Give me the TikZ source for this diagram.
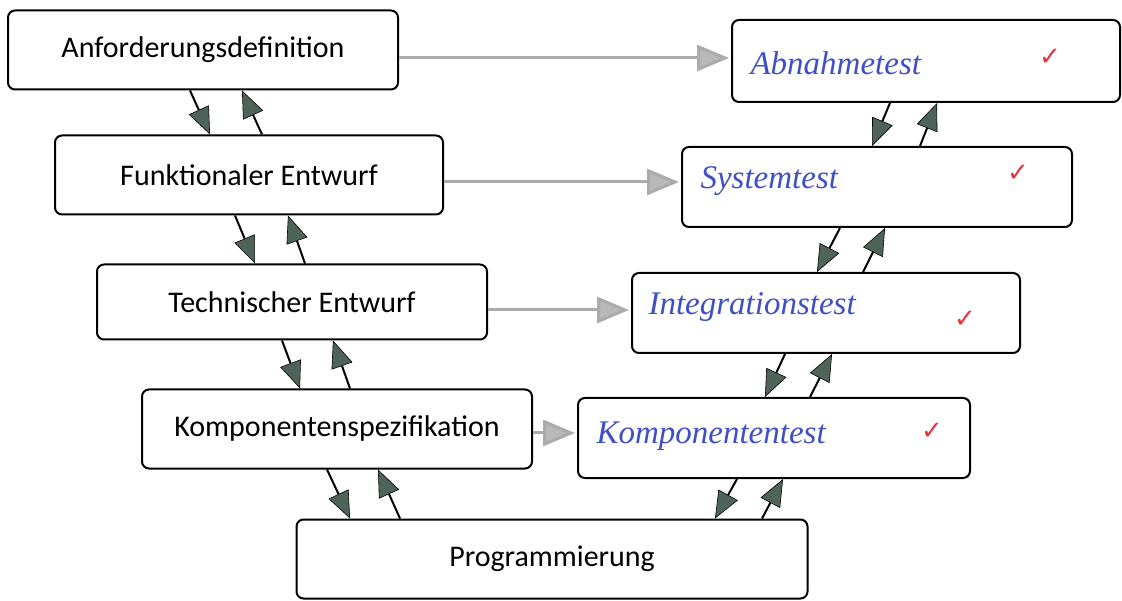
\documentclass[tikz,border=0pt]{standalone}
\usepackage{fontspec}
\setmainfont{Carlito}
\newfontfamily\handfont{Liberation Serif}
\newfontfamily\symfont{DejaVu Sans}
\usetikzlibrary{arrows.meta}

\definecolor{headfill}{HTML}{4E6459}
\definecolor{flowgray}{HTML}{ABABAB}
\definecolor{inkblue}{HTML}{3F4FC4}
\definecolor{markred}{HTML}{E8323C}

\tikzset{
  phase/.style={draw=black, line width=2pt, rounded corners=7pt, fill=white,
    minimum height=79pt, inner sep=0pt, font=\fontsize{30}{35}\selectfont},
  testbox/.style={phase},
  hand/.style={font=\handfont\itshape\fontsize{33}{37}\selectfont, text=inkblue, anchor=west},
  tick/.style={font=\symfont\fontsize{26}{28}\selectfont, text=markred},
  flow/.style={line width=3pt, draw=flowgray,
    -{Triangle[length=32pt, width=26pt, fill=flowgray!85]}, shorten >=2pt},
  dep/.style={line width=2pt, draw=black,
    -{Triangle[length=27pt, width=22pt, fill=headfill, line width=0.6pt]}}
}

\begin{document}
\begin{tikzpicture}[x=1pt, y=-1pt]
\useasboundingbox (0,0) rectangle (1122,601);

% left branch of the V
\node[phase, minimum width=390pt] (anf)  at (203,50)  {Anforderungsdefinition};
\node[phase, minimum width=388pt] (funk) at (249,175) {Funktionaler Entwurf};
\node[phase, minimum width=390pt, minimum height=75pt] (tech) at (292,302) {Technischer Entwurf};
\node[phase, minimum width=390pt] (komp) at (337,429) {Komponentenspezifikation};
\node[phase, minimum width=511pt] (prog) at (552,559) {Programmierung};

% right branch of the V
\node[testbox, minimum width=388pt, minimum height=82pt] (abn)   at (926,61)  {};
\node[testbox, minimum width=390pt, minimum height=80pt] (sys)   at (877,187) {};
\node[testbox, minimum width=388pt, minimum height=80pt] (int)   at (826,313) {};
\node[testbox, minimum width=392pt, minimum height=80pt] (kompt) at (774,438) {};

% handwritten entries and ticks
\node[hand] (abnT)   at ([xshift=16pt,yshift=-2pt]abn.west)   {Abnahmetest};
\node[hand] (sysT)   at ([xshift=16pt,yshift=6pt]sys.west)    {Systemtest};
\node[hand] (intT)   at ([xshift=14pt,yshift=6pt]int.west)    {Integrationstest};
\node[hand] (komptT) at ([xshift=16pt,yshift=2pt]kompt.west)  {Komponententest};
\node[tick] (abnC)   at ([xshift=124pt,yshift=4pt]abn.center)   {✓};
\node[tick] (sysC)   at ([xshift=141pt,yshift=14pt]sys.center)  {✓};
\node[tick] (intC)   at ([xshift=139pt,yshift=-6pt]int.center)  {✓};
\node[tick] (komptC) at ([xshift=158pt,yshift=7pt]kompt.center) {✓};

% horizontal links between the branches
\draw[flow] (anf.east |- 0,58)   -- (abn.west |- 0,58);
\draw[flow] (funk.east |- 0,182) -- (sys.west |- 0,182);
\draw[flow] (tech.east |- 0,310) -- (int.west |- 0,310);
\draw[flow] (komp.east |- 0,433) -- (kompt.west |- 0,433);

% left branch: down and back up
\draw[dep] ([xshift=-13pt]anf.south)  -- ([xshift=-39pt]funk.north);
\draw[dep] ([xshift=13pt]funk.north)  -- ([xshift=39pt]anf.south);
\draw[dep] ([xshift=-14pt]funk.south) -- ([xshift=-37pt]tech.north);
\draw[dep] ([xshift=13pt]tech.north)  -- ([xshift=39pt]funk.south);
\draw[dep] ([xshift=-10pt]tech.south) -- ([xshift=-37pt]komp.north);
\draw[dep] ([xshift=13pt]komp.north)  -- ([xshift=41pt]tech.south);
\draw[dep] ([xshift=-10pt]komp.south) -- ([xshift=-202pt]prog.north);
\draw[dep] ([xshift=-152pt]prog.north) -- ([xshift=41pt]komp.south);

% right branch: down and back up
\draw[dep] ([xshift=-36pt]abn.south)  -- ([xshift=-5pt]sys.north);
\draw[dep] ([xshift=43pt]sys.north)   -- ([xshift=11pt]abn.south);
\draw[dep] ([xshift=-37pt]sys.south)  -- ([xshift=-9pt]int.north);
\draw[dep] ([xshift=37pt]int.north)   -- ([xshift=8pt]sys.south);
\draw[dep] ([xshift=-41pt]int.south)  -- ([xshift=-9pt]kompt.north);
\draw[dep] ([xshift=36pt]kompt.north) -- ([xshift=6pt]int.south);
\draw[dep] ([xshift=-37pt]kompt.south) -- ([xshift=163pt]prog.north);
\draw[dep] ([xshift=210pt]prog.north)  -- ([xshift=9pt]kompt.south);
\end{tikzpicture}
\end{document}
